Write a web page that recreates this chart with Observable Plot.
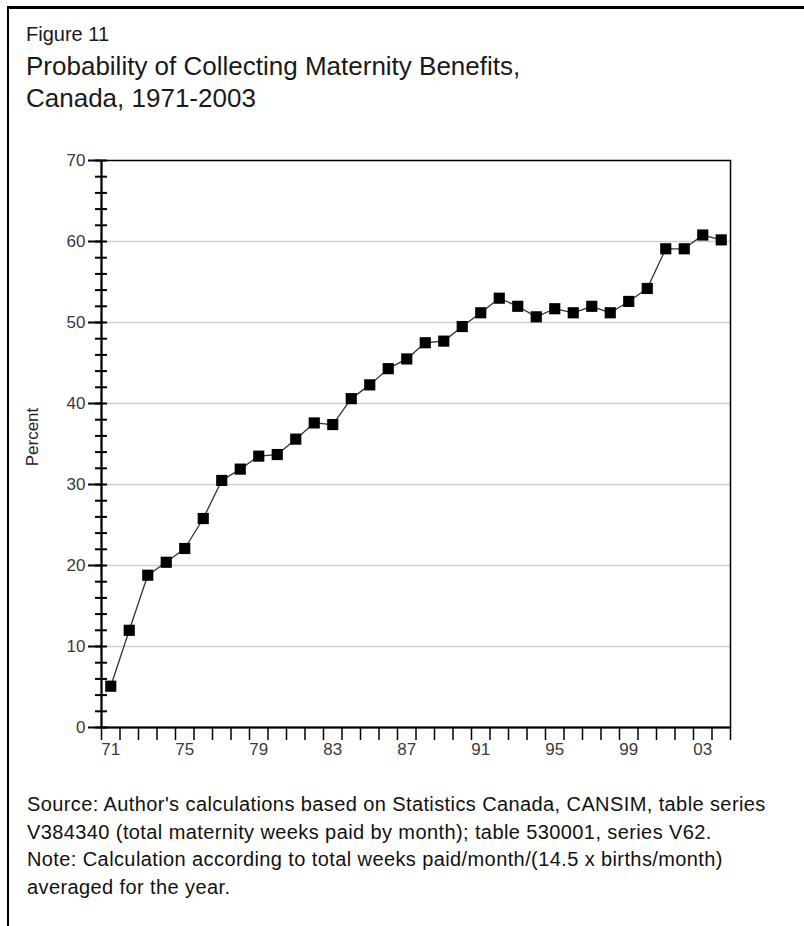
<!DOCTYPE html>
<html><head><meta charset="utf-8">
<script src="https://cdn.jsdelivr.net/npm/d3@7"></script>
<script src="https://cdn.jsdelivr.net/npm/@observablehq/plot@0.6"></script>
<style>
html,body{margin:0;padding:0;background:#fff;}
#page{position:relative;width:804px;height:926px;overflow:hidden;font-family:"Liberation Sans",Arial,sans-serif;color:#111;background:#fff;}
#borderTop{position:absolute;left:7px;top:6px;width:797px;height:3px;background:#000;z-index:3;}
#borderLeft{position:absolute;left:7px;top:6px;width:2px;height:920px;background:#000;z-index:3;}
#fig{position:absolute;left:26px;top:23px;font-size:20px;line-height:22px;color:#1a1a1a;z-index:3;}
#title{position:absolute;left:26px;top:50px;font-size:26px;line-height:32px;color:#1a1a1a;z-index:3;}
#ylabel{position:absolute;left:33px;top:437px;transform:translate(-50%,-50%) rotate(-90deg);font-size:17px;color:#222;white-space:nowrap;z-index:3;}
#chart{position:absolute;left:0;top:130px;z-index:1;}
#caption{position:absolute;left:27px;top:791px;font-size:20px;letter-spacing:0.4px;line-height:27.5px;color:#111;white-space:nowrap;z-index:3;}
</style>
</head><body>
<div id="page">
  <div id="borderTop"></div>
  <div id="borderLeft"></div>
  <div id="fig">Figure 11</div>
  <div id="title">Probability of Collecting Maternity Benefits,<br>Canada, 1971-2003</div>
  <div id="ylabel">Percent</div>
  <div id="chart"></div>
  <div id="caption">Source: Author's calculations based on Statistics Canada, CANSIM, table series<br>V384340 (total maternity weeks paid by month); table 530001, series V62.<br>Note: Calculation according to total weeks paid/month/(14.5 x births/month)<br>averaged for the year.</div>
</div>
<script>
const years = [1971,1972,1973,1974,1975,1976,1977,1978,1979,1980,1981,1982,1983,1984,1985,1986,1987,1988,1989,1990,1991,1992,1993,1994,1995,1996,1997,1998,1999,2000,2001,2002,2003,2004];
const percent = [5.1,12.0,18.8,20.4,22.1,25.8,30.5,31.9,33.5,33.7,35.6,37.6,37.4,40.6,42.3,44.3,45.5,47.5,47.7,49.5,51.2,53.0,52.0,50.7,51.7,51.2,52.0,51.2,52.6,54.2,59.1,59.1,60.8,60.2];
const labeledYears = [1971,1975,1979,1983,1987,1991,1995,1999,2003];
const yMajor = [0,10,20,30,40,50,60,70];
const yMinor = [0,2,4,6,8,10,12,14,16,18,20,22,24,26,28,30,32,34,36,38,40,42,44,46,48,50,52,54,56,58,60,62,64,66,68,70];
const gridValues = [10,20,30,40,50,60];

const data = years.map((year, i) => ({year, percent: percent[i]}));
const boundaries = years.map(y => y - 0.5).concat([years[years.length - 1] + 0.5]);

const fontAxis = '"Liberation Sans",Arial,sans-serif';

const chart = Plot.plot({
  width: 804,
  height: 640,
  marginLeft: 101,
  marginRight: 74,
  marginTop: 30,
  marginBottom: 43,
  x: {type: "linear", domain: [boundaries[0], boundaries[boundaries.length - 1]]},
  y: {domain: [0, 70]},
  style: {fontFamily: fontAxis, fontSize: "17px", color: "#333", background: "transparent", overflow: "visible"},
  marks: [
    Plot.ruleY(gridValues, {stroke: "#cfcfcf", strokeWidth: 1.5}),
    Plot.frame({stroke: "black", strokeWidth: 1.5}),
    Plot.axisY({ticks: yMajor, tickSize: 13, tickPadding: 3, label: null, stroke: "black", strokeWidth: 2, fill: "#3a3a3a"}),
    Plot.axisY({ticks: yMinor, tickSize: 12, dx: 6, tickFormat: () => "", label: null, stroke: "black", strokeWidth: 2}),
    Plot.axisX({ticks: boundaries, tickSize: 13, tickFormat: () => "", label: null, stroke: "black", strokeWidth: 1.5}),
    Plot.axisX({ticks: labeledYears, tickSize: 0, tickPadding: 15, tickFormat: d => String(d).slice(2), label: null, fill: "#3a3a3a"}),
    Plot.ruleX([boundaries[0]], {stroke: "black", strokeWidth: 2}),
    Plot.ruleY([0], {stroke: "black", strokeWidth: 2}),
    Plot.line(data, {x: "year", y: "percent", stroke: "#333", strokeWidth: 1.3}),
    Plot.dot(data, {x: "year", y: "percent", symbol: "square", r: 6.3, fill: "black", stroke: "none"})
  ]
});
d3.select(chart).selectAll("text").attr("font-size", 17).style("font-size", "17px");
document.getElementById("chart").appendChild(chart);
</script>
</body></html>
